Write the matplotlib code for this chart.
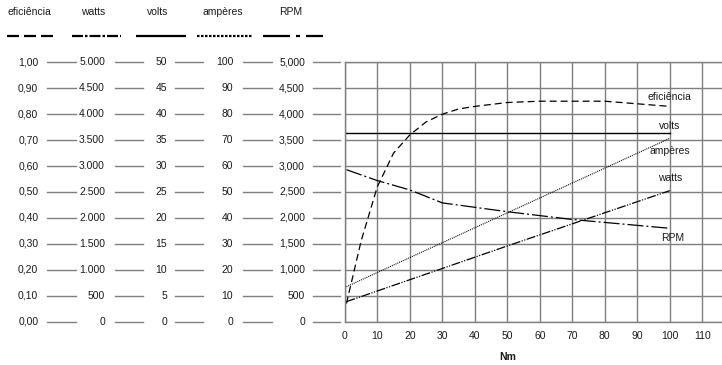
import matplotlib
matplotlib.use("Agg")
import matplotlib.pyplot as plt
from matplotlib.lines import Line2D
from matplotlib.transforms import blended_transform_factory

plt.rcParams["font.family"] = ["Liberation Sans", "DejaVu Sans"]
plt.rcParams["lines.scale_dashes"] = False

W, H = 722, 365
TXT = "#1a1a1a"
GRID = "#7f7f7f"

# --- data ---
nm_ticks = list(range(0, 111, 10))

eff_nm = [0.5, 5, 10, 15, 20, 25, 30, 35, 40, 50, 60, 70, 80, 90, 100]
eficiencia = [0.07, 0.31, 0.52, 0.65, 0.72, 0.77, 0.80, 0.82, 0.83, 0.845, 0.85, 0.85, 0.85, 0.84, 0.83]

volts_nm = [0.5, 100]
volts = [36.4, 36.4]

amp_nm = [0.5, 100]
amperes = [13.5, 70.7]

watts_nm = [0.5, 50, 100]
watts = [386, 1460, 2526]

rpm_nm = [0.5, 10, 20, 30, 50, 70, 100]
rpm = [2930, 2720, 2540, 2290, 2120, 1970, 1800]

# tick labels of the five scales, bottom to top
eff_labels = ["0,00", "0,10", "0,20", "0,30", "0,40", "0,50", "0,60", "0,70", "0,80", "0,90", "1,00"]
watts_labels = ["0", "500", "1.000", "1.500", "2.000", "2.500", "3.000", "3.500", "4.000", "4.500", "5.000"]
volts_labels = ["0", "5", "10", "15", "20", "25", "30", "35", "40", "45", "50"]
amp_labels = ["0", "10", "20", "30", "40", "50", "60", "70", "80", "90", "100"]
rpm_labels = ["0", "500", "1,000", "1,500", "2,000", "2,500", "3,000", "3,500", "4,000", "4,500", "5,000"]
levels = list(range(0, 5001, 500))

# every series is drawn on the common 0..5000 scale
scale = {"eficiência": 5000, "watts": 1, "volts": 100, "ampères": 50, "RPM": 1}

def px(n):
    return n * 0.72  # pixels -> points at 100 dpi

styles = {
    "eficiência": dict(ls=(0, (px(7), px(4))), lw=0.9),
    "watts": dict(ls=(0, (px(9), px(1.5), px(1.2), px(1.5), px(1.2), px(1.5))), lw=0.9),
    "volts": dict(ls="-", lw=1.0),
    "ampères": dict(ls=(0, (px(1), px(1))), lw=0.8),
    "RPM": dict(ls=(0, (px(16), px(3), px(2), px(3))), lw=0.9),
}
legend_styles = {
    "eficiência": (0, (px(12), px(5))),
    "watts": (0, (px(11), px(2), px(2.5), px(2))),
    "volts": "-",
    "ampères": (0, (px(2.5), px(1.5))),
    "RPM": (0, (px(27), px(6), px(4), px(6))),
}

fig = plt.figure(figsize=(W / 100, H / 100), dpi=100)
x0, x1, y0, y1 = 344.8, 722, 62.3, 321.7
ax = fig.add_axes([x0 / W, 1 - y1 / H, (x1 - x0) / W, (y1 - y0) / H])
ax.set_xlim(0, (x1 - x0) / 3.25)
ax.set_ylim(0, 5000)

ax.set_xticks(nm_ticks)
ax.set_yticks(levels)
ax.grid(True, color=GRID, lw=1.0)
ax.set_axisbelow(True)
ax.spines["right"].set_visible(False)
for side in ["left", "top", "bottom"]:
    ax.spines[side].set_color(GRID)
    ax.spines[side].set_linewidth(1.0)
ax.tick_params(length=0, labelsize=7.5, labelcolor=TXT, pad=7)
ax.tick_params(axis="y", labelleft=False)
ax.set_xlabel("Nm", fontsize=7.5, fontweight="bold", color=TXT)
ax.xaxis.label.set_va("center")
ax.xaxis.set_label_coords(50 / ax.get_xlim()[1], -(357 - y1) / (y1 - y0))

series = [
    ("eficiência", eff_nm, eficiencia, (0, 6.5)),
    ("volts", volts_nm, volts, (0, 5)),
    ("ampères", amp_nm, amperes, (0, -9.5)),
    ("watts", watts_nm, watts, (0, 9.2)),
    ("RPM", rpm_nm, rpm, (1.8, -7)),
]
for name, xs, ys, off in series:
    yv = [v * scale[name] for v in ys]
    ax.plot(xs, yv, color="black", dash_capstyle="butt", **styles[name])
    ax.annotate(name, (xs[-1], yv[-1]), xytext=off, textcoords="offset points",
                ha="center", va="center", fontsize=7.5, color=TXT)

# left-hand scales: labels plus short connector lines
tr = blended_transform_factory(fig.transFigure, ax.transData)
columns = [
    (eff_labels, 38.3, 46.7, 76.0),
    (watts_labels, 105.0, 115.0, 143.3),
    (volts_labels, 167.0, 175.0, 203.3),
    (amp_labels, 233.3, 243.3, 271.7),
    (rpm_labels, 305.0, 313.3, 340.0),
]
for labels, right, la, lb in columns:
    for lab, lev in zip(labels, levels):
        fig.text(right / W, lev, lab, transform=tr, ha="right", va="center",
                 fontsize=7.5, color=TXT)
        fig.add_artist(Line2D([la / W, lb / W], [lev, lev], transform=tr,
                              color=GRID, lw=1.0))

# header names and line samples
headers = [
    ("eficiência", 29.5, 6.7, 53.3),
    ("watts", 93.0, 71.7, 120.7),
    ("volts", 158.0, 136.0, 185.7),
    ("ampères", 223.0, 196.7, 252.0),
    ("RPM", 291.0, 263.3, 323.3),
]
for name, cx, sa, sb in headers:
    fig.text(cx / W, 1 - 12 / H, name, ha="center", va="center", fontsize=7.5, color=TXT)
    fig.add_artist(Line2D([sa / W, sb / W], [1 - 35.7 / H] * 2, transform=fig.transFigure,
                          color="black", lw=1.6, ls=legend_styles[name],
                          dash_capstyle="butt", solid_capstyle="butt"))

fig.savefig("out.png", dpi=100)
